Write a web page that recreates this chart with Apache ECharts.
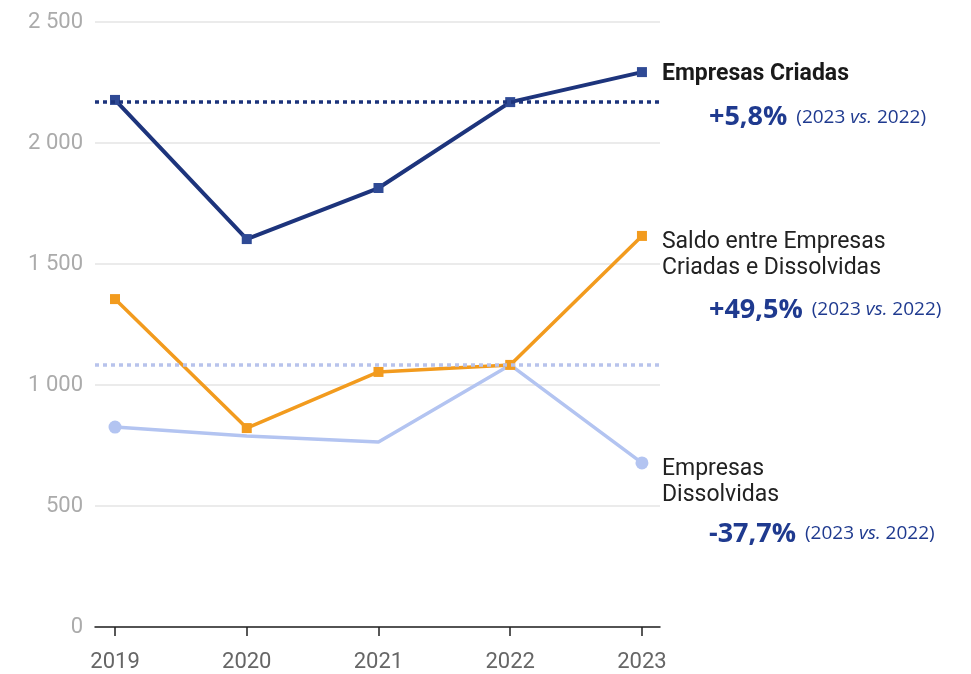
<!DOCTYPE html>
<html>
<head>
<meta charset="utf-8">
<script src="https://cdn.jsdelivr.net/npm/echarts@6/dist/echarts.min.js"></script>
<style>html,body{margin:0;padding:0;background:#fff;}#c{width:971px;height:674px;}</style>
</head>
<body>
<div id="c"></div>
<script>
const years = [2019, 2020, 2021, 2022, 2023];
const criadas = [2178, 1603, 1814, 2169, 2293];
const saldo = [1355, 822, 1054, 1083, 1616];
const dissolvidas = [826, 789, 764, 1083, 678];
const dissolvidasMarkers = [true, false, false, false, true];
const yTicks = [0, 500, 1000, 1500, 2000, 2500];
const refCriadas = 2169;
const refDissolvidas = 1083;

const NAVY = '#1d347c';
const ORANGE = '#f29b1e';
const LIGHT = '#b3c4f1';
const PCT = '#1f3a8f';

function pctRich(lh){
  return {
    n: {fontFamily: 'Roboto', fontSize: 23, fontWeight: 'bold', color: '#1a1a1a', lineHeight: 26},
    t: {fontFamily: 'Roboto', fontSize: 23, color: '#222', lineHeight: 26},
    p: {fontFamily: 'Open Sans', fontSize: 27, fontWeight: 'bold', color: PCT, padding: [0,0,0,47], lineHeight: lh},
    s0: {fontFamily: 'Open Sans', fontSize: 19, color: PCT, padding: [0,0,0,9], lineHeight: lh},
    s: {fontFamily: 'Open Sans', fontSize: 19, color: PCT, lineHeight: lh},
    i: {fontFamily: 'Open Sans', fontSize: 19, fontStyle: 'italic', color: PCT, lineHeight: lh}
  };
}

const chart = echarts.init(document.getElementById('c'), null, {renderer: 'canvas'});

const criadasData = years.map((y, k) => {
  const d = {value: [y, criadas[k]]};
  if (k === years.length - 1) {
    d.label = {show: true, position: 'right', distance: 15, align: 'left', verticalAlign: 'top', offset: [0, -11],
      formatter: '{n|Empresas Criadas}\n{p|+5,8%}{s0|(2023 }{i|vs.}{s| 2022)}', rich: pctRich(60)};
  }
  return d;
});
const saldoData = years.map((y, k) => {
  const d = {value: [y, saldo[k]]};
  if (k === years.length - 1) {
    d.label = {show: true, position: 'right', distance: 15, align: 'left', verticalAlign: 'top', offset: [0, -7],
      formatter: '{t|Saldo entre Empresas}\n{t|Criadas e Dissolvidas}\n{p|+49,5%}{s0|(2023 }{i|vs.}{s| 2022)}', rich: pctRich(58)};
  }
  return d;
});
const dissData = years.map((y, k) => {
  const d = {value: [y, dissolvidas[k]], symbol: dissolvidasMarkers[k] ? 'circle' : 'none'};
  if (k === years.length - 1) {
    d.label = {show: true, position: 'right', distance: 13.5, align: 'left', verticalAlign: 'top', offset: [0, -7],
      formatter: '{t|Empresas}\n{t|Dissolvidas}\n{p|-37,7%}{s0|(2023 }{i|vs.}{s| 2022)}', rich: pctRich(52)};
  }
  return d;
});

chart.setOption({
  animation: false,
  backgroundColor: '#fff',
  grid: {left: 95, right: 311, top: 22, bottom: 47, containLabel: false},
  xAxis: {
    type: 'value',
    min: 2018.848,
    max: 2023.137,
    splitLine: {show: false},
    axisLine: {show: true, lineStyle: {color: '#222', width: 1.5}},
    axisTick: {show: true, customValues: years, length: 9, lineStyle: {color: '#222', width: 1.5}},
    axisLabel: {show: true, customValues: years, formatter: v => String(v), color: '#666', fontSize: 22, fontFamily: 'Roboto', margin: 24}
  },
  yAxis: {
    type: 'value',
    min: 0, max: 2500, interval: 500,
    axisLine: {show: false},
    axisTick: {show: false},
    splitLine: {show: true, lineStyle: {color: '#e4e4e4', width: 1.5}},
    axisLabel: {color: '#ababab', fontSize: 22, fontFamily: 'Roboto', margin: 12,
      formatter: v => String(v).replace(/\B(?=(\d{3})+(?!\d))/g, ' ')}
  },
  series: [
    {
      name: 'Empresas Dissolvidas', type: 'line', data: dissData,
      symbol: 'circle', symbolSize: 13,
      lineStyle: {color: LIGHT, width: 3.5}, itemStyle: {color: LIGHT},
      markLine: {silent: true, symbol: 'none', label: {show: false},
        lineStyle: {color: '#b8c3ec', width: 3.5, type: [4, 4]},
        data: [{yAxis: refDissolvidas}]},
      z: 2
    },
    {
      name: 'Saldo', type: 'line', data: saldoData,
      symbol: 'rect', symbolSize: 10,
      lineStyle: {color: ORANGE, width: 3.5}, itemStyle: {color: ORANGE},
      z: 3
    },
    {
      name: 'Empresas Criadas', type: 'line', data: criadasData,
      symbol: 'rect', symbolSize: 10,
      lineStyle: {color: NAVY, width: 4}, itemStyle: {color: '#2f4a95'},
      markLine: {silent: true, symbol: 'none', label: {show: false},
        lineStyle: {color: NAVY, width: 3.5, type: [4, 4]},
        data: [{yAxis: refCriadas}]},
      z: 4
    }
  ]
});
</script>
</body>
</html>
